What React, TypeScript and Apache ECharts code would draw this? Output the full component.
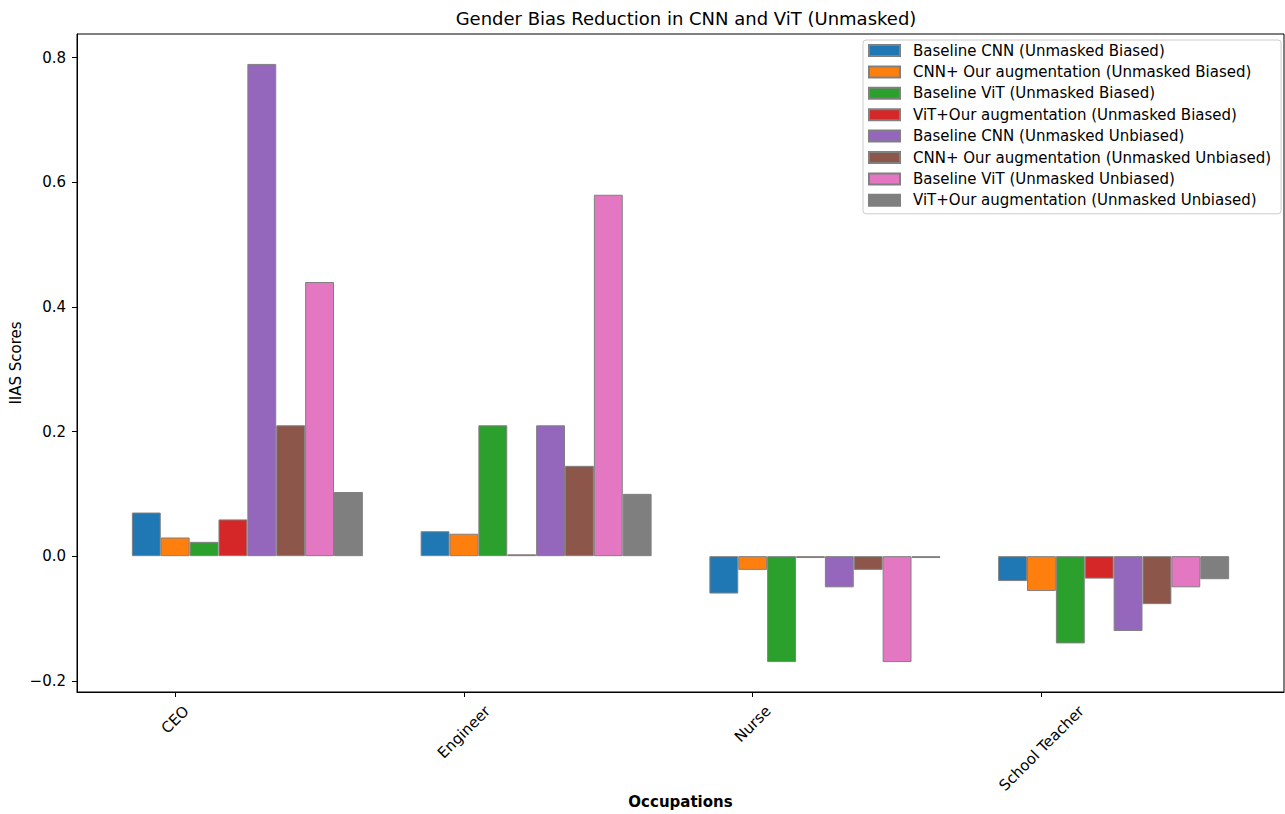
import React, { useEffect, useRef } from "react";
import * as echarts from "echarts";

const categories = ["CEO", "Engineer", "Nurse", "School Teacher"];
const seriesNames = [
  "Baseline CNN (Unmasked Biased)",
  "CNN+ Our augmentation (Unmasked Biased)",
  "Baseline ViT (Unmasked Biased)",
  "ViT+Our augmentation (Unmasked Biased)",
  "Baseline CNN (Unmasked Unbiased)",
  "CNN+ Our augmentation (Unmasked Unbiased)",
  "Baseline ViT (Unmasked Unbiased)",
  "ViT+Our augmentation (Unmasked Unbiased)",
];
const baselineCnnBiased = [0.07, 0.04, -0.06, -0.04];
const cnnAugBiased = [0.03, 0.036, -0.022, -0.056];
const baselineVitBiased = [0.023, 0.21, -0.17, -0.14];
const vitAugBiased = [0.059, 0.003, -0.003, -0.036];
const baselineCnnUnbiased = [0.79, 0.21, -0.05, -0.12];
const cnnAugUnbiased = [0.21, 0.145, -0.022, -0.077];
const baselineVitUnbiased = [0.44, 0.58, -0.17, -0.05];
const vitAugUnbiased = [0.103, 0.1, -0.003, -0.037];
const seriesValues = [
  baselineCnnBiased,
  cnnAugBiased,
  baselineVitBiased,
  vitAugBiased,
  baselineCnnUnbiased,
  cnnAugUnbiased,
  baselineVitUnbiased,
  vitAugUnbiased,
];
const colors = ["#1f77b4", "#ff7f0e", "#2ca02c", "#d62728", "#9467bd", "#8c564b", "#e377c2", "#7f7f7f"];
const yTicks = [-0.2, 0, 0.2, 0.4, 0.6, 0.8];
const barStep = 0.1;
const tickOffset = 0.1;

const FONT = "DejaVu Sans";
const FS = 15;

function measure(text: string, size: number): number {
  const c = document.createElement("canvas").getContext("2d");
  if (!c) return text.length * size * 0.6;
  c.font = `${size}px "${FONT}"`;
  return c.measureText(text).width;
}

export default function App() {
  const ref = useRef<HTMLDivElement>(null);
  useEffect(() => {
    document.body.style.margin = "0";
    if (!ref.current) return;
    const chart = echarts.init(ref.current, null, { renderer: "svg" });
    const xMin = -0.24;
    const xMax = 3.94;
    const gridLeft = 77;
    const gridRight = 1;
    const gridW = 1285 - gridLeft - gridRight;
    const barW = (barStep * gridW) / (xMax - xMin);
    const xTickVals = categories.map((_, i) => i + tickOffset);

    // matplotlib-like rotated labels: rotation 45, centered horizontally on tick, bbox top at fixed pad
    const labelMargin = 10;
    const topPad = 10.5;
    const lineH = 17;
    const rich: Record<string, any> = {};
    categories.forEach((c, i) => {
      const w = measure(c, FS);
      const d = topPad + (w + lineH) * 0.3536 - labelMargin;
      const p = Math.max(0, Math.SQRT2 * d);
      rich[`c${i}`] = {
        fontFamily: FONT,
        fontSize: FS,
        color: "#000",
        padding: [p, p, 0, 0],
      };
    });

    chart.setOption({
      animation: false,
      textStyle: { fontFamily: FONT },
      title: {
        text: "Gender Bias Reduction in CNN and ViT (Unmasked)",
        left: 681,
        textAlign: "center",
        top: 4,
        textStyle: { fontFamily: FONT, fontSize: 18, fontWeight: "normal", color: "#000" },
      },
      legend: {
        orient: "vertical",
        left: 863,
        top: 40,
        padding: [3, 10, 6, 5],
        itemWidth: 31,
        itemHeight: 11,
        itemGap: 6.4,
        borderColor: "#cccccc",
        borderWidth: 1,
        borderRadius: 3,
        backgroundColor: "rgba(255,255,255,0.8)",
        icon: "rect",
        textStyle: { fontFamily: FONT, fontSize: FS, lineHeight: 15, color: "#000", padding: [0, 0, 0, 8] },
        data: seriesNames,
      },
      grid: {
        left: gridLeft,
        right: gridRight,
        top: 34,
        bottom: 122,
        show: true,
        borderColor: "#000",
        borderWidth: 1,
        containLabel: false,
        outerBoundsMode: "none",
      },
      xAxis: {
        type: "value",
        min: xMin,
        max: xMax,
        name: "Occupations",
        nameLocation: "middle",
        nameGap: 102,
        nameMoveOverlap: false,
        nameTextStyle: { fontFamily: FONT, fontSize: FS, fontWeight: "bold", color: "#000" },
        axisLine: { show: true, onZero: false, lineStyle: { color: "#000", width: 1 } },
        axisTick: { show: true, length: 5, customValues: xTickVals, lineStyle: { color: "#000" } },
        axisLabel: {
          customValues: xTickVals,
          rotate: 45,
          margin: labelMargin,
          align: "center",
          verticalAlign: "middle",
          fontFamily: FONT,
          fontSize: FS,
          color: "#000",
          rich,
          formatter: (v: number) => {
            const i = Math.round(v - tickOffset);
            return categories[i] !== undefined ? `{c${i}|${categories[i]}}` : "";
          },
        },
        splitLine: { show: false },
      },
      yAxis: {
        type: "value",
        min: -0.218,
        max: 0.838,
        name: "IIAS Scores",
        nameLocation: "middle",
        nameGap: 54,
        nameMoveOverlap: false,
        nameTextStyle: { fontFamily: FONT, fontSize: FS, color: "#000" },
        axisLine: { show: true, onZero: false, lineStyle: { color: "#000", width: 1 } },
        axisTick: { show: true, length: 5, customValues: yTicks, lineStyle: { color: "#000" } },
        axisLabel: {
          customValues: yTicks,
          margin: 11,
          fontFamily: FONT,
          fontSize: FS,
          color: "#000",
          formatter: (v: number) => v.toFixed(1).replace("-", "\u2212"),
        },
        splitLine: { show: false },
      },
      series: seriesValues.map((vals, k) => ({
        name: seriesNames[k],
        type: "bar",
        barWidth: barW,
        barGap: "-100%",
        itemStyle: { color: colors[k], borderColor: "#808080", borderWidth: 1 },
        data: vals.map((v, i) => [i + k * barStep, v]),
      })),
    });
    return () => chart.dispose();
  }, []);
  return <div ref={ref} style={{ width: 1285, height: 814 }} />;
}
